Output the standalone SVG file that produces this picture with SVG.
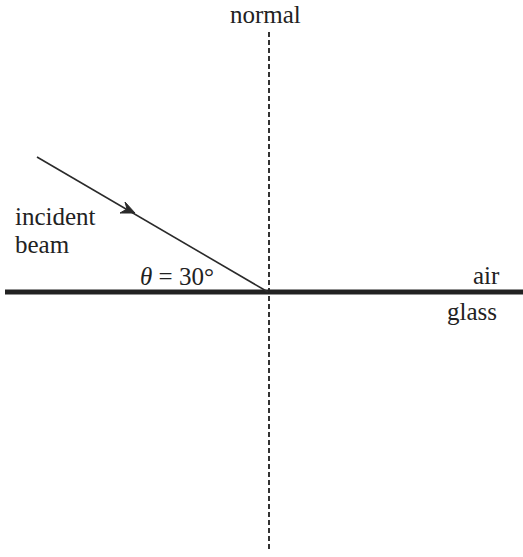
<svg xmlns="http://www.w3.org/2000/svg" width="523" height="557" viewBox="0 0 523 557">
<style>
text{font-family:'Liberation Serif','Times New Roman','DejaVu Serif',serif;font-size:25px;fill:#222}
.ray{stroke:#2a2a2a;stroke-width:1.6;fill:none}
</style>
<rect width="523" height="557" fill="#fff"/>
<g id="connectors">
<line id="normal-line" x1="269" y1="32" x2="269" y2="552" stroke="#333" stroke-width="2" stroke-dasharray="5,3"/>
<line id="interface" x1="5" y1="292" x2="523" y2="292" stroke="#222" stroke-width="5"/>
<line id="incident" class="ray" x1="37" y1="157" x2="268" y2="292"/>
<path d="M125,202 L135,213 L120,213 L127,209 Z" fill="#2a2a2a" stroke="#2a2a2a" stroke-width="1"/>
</g>
<g id="label-normal"><text x="230" y="23" font-family="Liberation Serif, serif">normal</text></g>
<g id="label-incident"><text x="15" y="225" font-family="Liberation Serif, serif">incident</text><text x="15" y="253" font-family="Liberation Serif, serif">beam</text></g>
<g id="label-angle"><text x="140" y="285" font-family="Liberation Serif, serif"><tspan font-style="italic">θ</tspan> = 30°</text></g>
<g id="label-air"><text x="473" y="284" font-family="Liberation Serif, serif">air</text></g>
<g id="label-glass"><text x="447" y="320" font-family="Liberation Serif, serif">glass</text></g>
</svg>
